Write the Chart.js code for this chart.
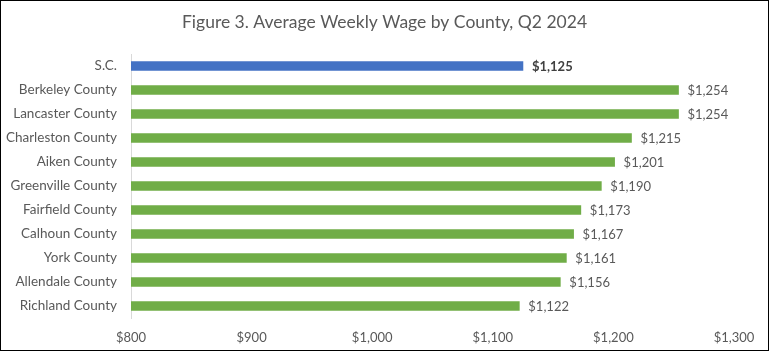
<!DOCTYPE html>
<html>
<head>
<meta charset="utf-8">
<script src="https://cdn.jsdelivr.net/npm/chart.js@4/dist/chart.umd.min.js"></script>
<style>
  html, body { margin: 0; padding: 0; background: #fff; }
  canvas { display: block; }
</style>
</head>
<body>
<canvas id="c" width="769" height="351" style="width:769px;height:351px"></canvas>
<script>
const categories = ["S.C.", "Berkeley County", "Lancaster County", "Charleston County", "Aiken County",
  "Greenville County", "Fairfield County", "Calhoun County", "York County", "Allendale County", "Richland County"];
const wages = [1125, 1254, 1254, 1215, 1201, 1190, 1173, 1167, 1161, 1156, 1122];
const xTicks = [800, 900, 1000, 1100, 1200, 1300];
const titleText = "Figure 3. Average Weekly Wage by County, Q2 2024";

const BLUE = "#4472C4", GREEN = "#70AD47", TXT = "#595959";
const FONT = "Lato, 'Open Sans', sans-serif";

const money = v => "$" + Number(v).toLocaleString("en-US");

const frame = {
  id: "frame",
  beforeDraw(chart) {
    const ctx = chart.ctx;
    ctx.save();
    ctx.fillStyle = "#fff";
    ctx.fillRect(0, 0, chart.width, chart.height);
    ctx.restore();
  },
  afterDraw(chart) {
    const ctx = chart.ctx;
    ctx.save();
    ctx.strokeStyle = "#000";
    ctx.lineWidth = 1;
    ctx.strokeRect(0.5, 0.5, chart.width - 1, chart.height - 1);
    ctx.restore();
  }
};

const valueLabels = {
  id: "valueLabels",
  afterDatasetsDraw(chart) {
    const ctx = chart.ctx;
    const meta = chart.getDatasetMeta(0);
    ctx.save();
    ctx.textBaseline = "middle";
    ctx.textAlign = "left";
    meta.data.forEach((bar, i) => {
      const first = i === 0;
      ctx.font = (first ? "bold " : "") + "13px " + FONT;
      ctx.fillStyle = first ? "#404040" : TXT;
      ctx.fillText(money(wages[i]), bar.x + 9, bar.y + 1);
    });
    ctx.restore();
  }
};

new Chart(document.getElementById("c"), {
  type: "bar",
  data: {
    labels: categories,
    datasets: [{
      data: wages,
      backgroundColor: wages.map((_, i) => i === 0 ? BLUE : GREEN),
      barThickness: 9,
      borderWidth: 0
    }]
  },
  options: {
    indexAxis: "y",
    responsive: false,
    animation: false,
    devicePixelRatio: 1,
    layout: { padding: { left: 0, right: 0, top: 0, bottom: 0 } },
    plugins: {
      legend: { display: false },
      tooltip: { enabled: false },
      title: {
        display: true,
        text: titleText,
        color: TXT,
        font: { family: FONT, size: 17.5, weight: "normal", lineHeight: 1.2 },
        padding: { top: 12, bottom: 21 }
      }
    },
    scales: {
      x: {
        type: "linear",
        min: 800,
        max: 1300,
        afterBuildTicks(scale) { scale.ticks = xTicks.map(v => ({ value: v })); },
        afterFit(scale) { scale.height = 33; },
        grid: { display: false, drawTicks: false },
        border: { display: false },
        ticks: {
          color: TXT,
          padding: 12,
          maxRotation: 0,
          font: { family: FONT, size: 13 },
          callback: v => money(v)
        }
      },
      y: {
        afterFit(scale) { scale.width = 131; },
        grid: { display: false, drawTicks: false },
        border: { display: true, color: "#D9D9D9", width: 1 },
        ticks: {
          color: TXT,
          padding: 14,
          font: { family: FONT, size: 13.5 }
        }
      },
      yRight: {
        type: "category",
        position: "right",
        afterFit(scale) { scale.width = 35; },
        grid: { display: false, drawTicks: false },
        border: { display: false },
        ticks: { display: false }
      }
    }
  },
  plugins: [frame, valueLabels]
});
</script>
</body>
</html>
